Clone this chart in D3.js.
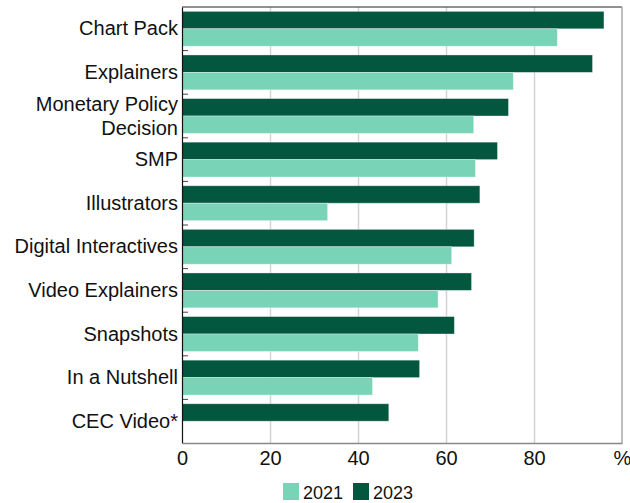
<!DOCTYPE html>
<html>
<head>
<meta charset="utf-8">
<script src="https://cdn.jsdelivr.net/npm/d3@7/dist/d3.min.js"></script>
<style>
  html, body { margin: 0; padding: 0; background: #fff; }
  svg { display: block; font-family: "Liberation Sans", Arial, sans-serif; }
</style>
</head>
<body>
<svg id="chart" width="630" height="503"></svg>
<script>
// Survey results by publication, per cent
const categories = [
  "Chart Pack", "Explainers", "Monetary Policy\nDecision", "SMP", "Illustrators",
  "Digital Interactives", "Video Explainers", "Snapshots", "In a Nutshell", "CEC Video*"
];
const values2023 = [95.9, 93.3, 74.2, 71.7, 67.7, 66.4, 65.8, 61.9, 54.0, 47.0];
const values2021 = [85.3, 75.3, 66.3, 66.7, 33.1, 61.3, 58.2, 53.7, 43.3, null];
const seriesNames = ["2023", "2021"];
const legendNames = ["2021", "2023"];
const xTicks = [0, 20, 40, 60, 80, 100];

const colors = { "2021": "#78d3b7", "2023": "#03573f" };

const svg = d3.select("#chart");
const plotLeft = 182, plotRight = 622, plotTop = 7, plotBottom = 443;

const x = d3.scaleLinear().domain([0, 100]).range([plotLeft, plotRight]);
const y = d3.scaleBand().domain(categories).range([plotTop, plotBottom]).padding(0);
const ySub = d3.scaleBand().domain(seriesNames).range([0, y.bandwidth()])
  .paddingInner(0).paddingOuter(0.25);

// vertical gridlines
svg.append("g")
  .attr("transform", `translate(0,${plotBottom})`)
  .call(d3.axisBottom(x).tickValues([20, 40, 60, 80]).tickSize(-(plotBottom - plotTop)).tickFormat(""))
  .call(g => g.select(".domain").remove())
  .call(g => g.selectAll("line").attr("stroke", "#d4d4d4").attr("stroke-width", 1.5));

// frame: top and right edges
svg.append("line").attr("x1", plotLeft).attr("x2", plotRight).attr("y1", plotTop).attr("y2", plotTop)
  .attr("stroke", "#222").attr("stroke-width", 1);
svg.append("line").attr("x1", plotRight).attr("x2", plotRight).attr("y1", plotTop).attr("y2", plotBottom)
  .attr("stroke", "#a8a8a8").attr("stroke-width", 1.5);

// bars
const rows = categories.map((c, i) => ({ cat: c, "2023": values2023[i], "2021": values2021[i] }));
const groups = svg.append("g").selectAll("g").data(rows).join("g")
  .attr("transform", d => `translate(0,${y(d.cat)})`);
groups.selectAll("rect")
  .data(d => seriesNames.filter(s => d[s] != null).map(s => ({ s, v: d[s] })))
  .join("rect")
  .attr("x", x(0))
  .attr("y", d => ySub(d.s))
  .attr("width", d => x(d.v) - x(0))
  .attr("height", ySub.bandwidth())
  .attr("fill", d => colors[d.s])
  .attr("stroke", "#ffffff")
  .attr("stroke-opacity", 0.45)
  .attr("stroke-width", 0.8);

// category separators on the left axis
svg.append("g").selectAll("line")
  .data(categories.slice(1))
  .join("line")
  .attr("x1", plotLeft).attr("x2", plotLeft + 6)
  .attr("y1", d => y(d)).attr("y2", d => y(d))
  .attr("stroke", "#444").attr("stroke-width", 1);

// left axis with category labels
const yAxis = svg.append("g")
  .attr("transform", `translate(${plotLeft},0)`)
  .call(d3.axisLeft(y).tickSize(0).tickPadding(4).tickFormat(""));
yAxis.select(".domain").attr("stroke", "#111").attr("stroke-width", 1.2);
yAxis.selectAll(".tick").each(function(d) {
  const lines = d.split("\n");
  const t = d3.select(this).append("text")
    .attr("x", -4)
    .attr("text-anchor", "end")
    .attr("fill", "#111")
    .attr("font-size", 20);
  const lh = 24;
  const y0 = -(lines.length - 1) * lh / 2;
  lines.forEach((ln, i) => {
    t.append("tspan").attr("x", -4).attr("y", y0 + i * lh).attr("dy", "0.33em").text(ln);
  });
});

// bottom axis
const xAxis = svg.append("g")
  .attr("transform", `translate(0,${plotBottom})`)
  .call(d3.axisBottom(x).tickValues(xTicks).tickSize(0).tickPadding(8)
    .tickFormat(v => v === 100 ? "%" : String(v)));
xAxis.select(".domain").attr("stroke", "#888").attr("stroke-width", 1.5);
xAxis.selectAll("text").attr("font-size", 20).attr("fill", "#111")
  .attr("font-family", "'Liberation Sans', Arial, sans-serif");

// legend
const legendX = [283, 353];
const lg = svg.append("g").selectAll("g").data(legendNames).join("g")
  .attr("transform", (d, i) => `translate(${legendX[i]},483)`);
lg.append("rect").attr("width", 16).attr("height", 17).attr("fill", d => colors[d]);
lg.append("text").attr("x", 20).attr("y", 16).attr("font-size", 18).attr("fill", "#111").text(d => d);
</script>
</body>
</html>
